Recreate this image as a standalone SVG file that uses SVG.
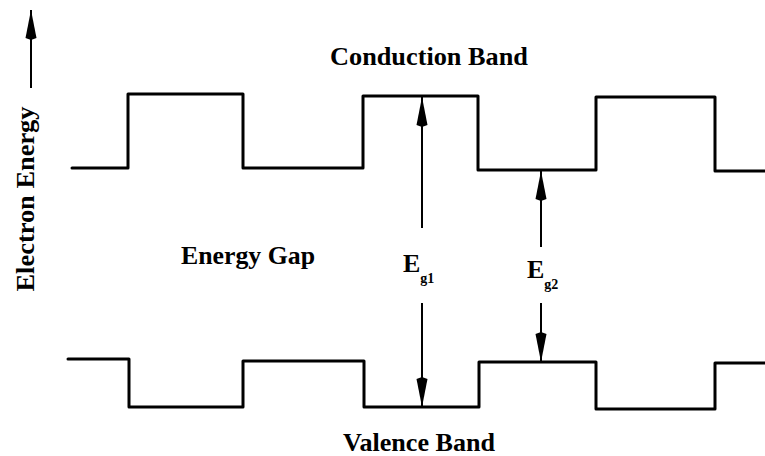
<svg xmlns="http://www.w3.org/2000/svg" width="765" height="456" viewBox="0 0 765 456">
<style>
.band{fill:none;stroke:#000;stroke-width:3;stroke-linejoin:round;stroke-linecap:round}
.arr{fill:none;stroke:#000;stroke-width:2;marker-end:url(#ah)}
.lbl{font-family:"Liberation Serif","Times New Roman",serif;font-weight:bold;font-size:26px;fill:#000}
.sub{font-family:"Liberation Serif","Times New Roman",serif;font-weight:bold;font-size:14px;fill:#000}
</style>
<defs>
<marker id="ah" viewBox="0 0 30 12" refX="30" refY="6" markerWidth="30" markerHeight="12" markerUnits="userSpaceOnUse" orient="auto">
<path d="M30,6 L2,0.5 L0,6 L2,11.5 Z" fill="#000"/>
</marker>
</defs>
<rect width="765" height="456" fill="#fff"/>
<g id="conduction-band">
<path class="band" d="M72,168 H128 V94 H243 V168 H363 V96 H478 V170 H596 V97 H715 V171 H765"/>
<text class="lbl" x="330" y="65" textLength="198" lengthAdjust="spacingAndGlyphs">Conduction Band</text>
</g>
<g id="valence-band">
<path class="band" d="M68,359 H129 V407 H243 V361 H364 V407 H479 V362 H596 V409 H715 V363 H765"/>
<text class="lbl" x="343" y="451" textLength="152" lengthAdjust="spacingAndGlyphs">Valence Band</text>
</g>
<g id="energy-gap">
<text class="lbl" x="181" y="264" textLength="134" lengthAdjust="spacingAndGlyphs">Energy Gap</text>
</g>
<g id="axis-label">
<text class="lbl" transform="translate(34,199) rotate(-90)" text-anchor="middle" textLength="185" lengthAdjust="spacingAndGlyphs">Electron Energy</text>
</g>
<g id="eg1-label">
<text class="lbl" x="403" y="272">E<tspan class="sub" dy="11">g1</tspan></text>
</g>
<g id="eg2-label">
<text class="lbl" x="527" y="278">E<tspan class="sub" dy="11">g2</tspan></text>
</g>
<g id="connectors">
<line class="arr" x1="31" y1="88" x2="31" y2="10"/>
<line class="arr" x1="422" y1="228" x2="422" y2="97"/>
<line class="arr" x1="422" y1="303" x2="422" y2="407"/>
<line class="arr" x1="541" y1="247" x2="541" y2="171"/>
<line class="arr" x1="541" y1="303" x2="541" y2="362"/>
</g>
</svg>
